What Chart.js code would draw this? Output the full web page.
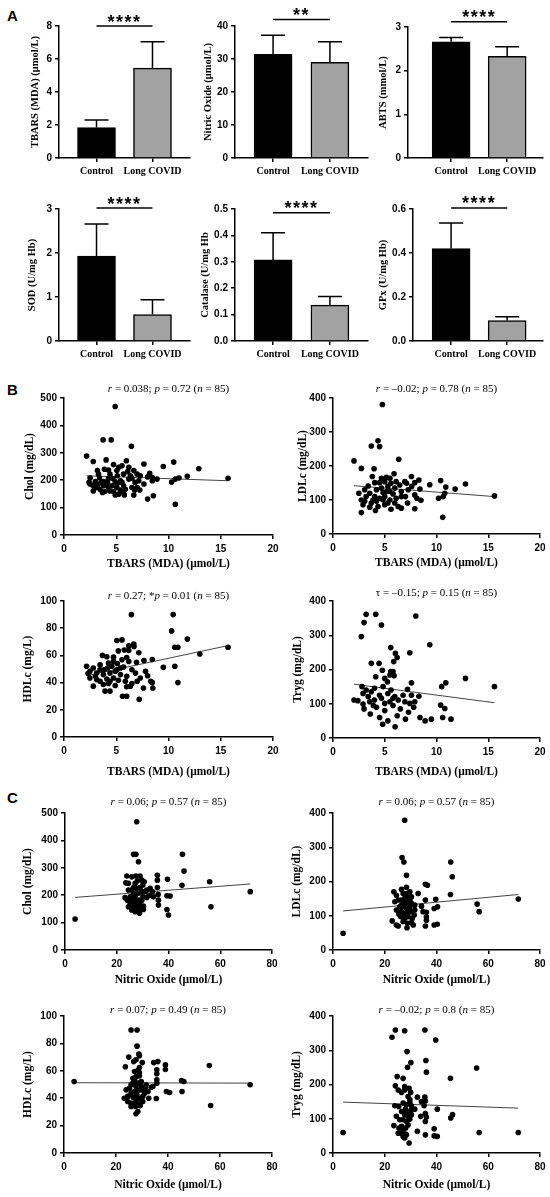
<!DOCTYPE html>
<html>
<head>
<meta charset="utf-8">
<script src="https://cdn.jsdelivr.net/npm/chart.js@4.4.1/dist/chart.umd.min.js"></script>
<style>
  body { margin: 0; background: #fff; }
  #fig { position: relative; width: 550px; height: 1197px; overflow: hidden; background: #fff; }
  #fig canvas { position: absolute; }
  .panel { position: absolute; font: bold 15px "Liberation Sans", Arial, sans-serif; line-height: 15px; }
</style>
</head>
<body>
<div id="fig">
  <div class="panel" style="left:7px; top:8px;">A</div>
  <div class="panel" style="left:7px; top:382px;">B</div>
  <div class="panel" style="left:7px; top:790px;">C</div>
</div>
<script>
// ---- panel A: group means and mean + SD
const groups = ['Control', 'Long COVID'];
const tbarsMean = [1.85, 5.45];
const tbarsUpper = [2.3, 7.05];
const noMean = [31.4, 29.0];
const noUpper = [37.2, 35.2];
const abtsMean = [2.66, 2.33];
const abtsUpper = [2.76, 2.55];
const sodMean = [1.93, 0.6];
const sodUpper = [2.66, 0.94];
const catMean = [0.307, 0.136];
const catUpper = [0.41, 0.169];
const gpxMean = [0.42, 0.093];
const gpxUpper = [0.536, 0.11];

// ---- panel B: lipids vs TBARS (x = TBARS, y = lipid)
const cholTbars = [[4.9,469],[3.74,347],[4.52,347],[6.45,324],[2.16,288],[2.8,268],[4.03,274],[5.97,271],[4.74,257],[7.65,259],[9.5,250],[10.5,266],[12.9,242],[3.87,240],[4.26,237],[5.23,247],[5.55,253],[6.2,247],[6.68,235],[7,222],[8.2,225],[3.3,222],[4.4,222],[5.1,216],[5.7,222],[7.3,216],[8,212],[8.45,210],[2.5,208],[3.4,208],[3.8,195],[3.0,195],[4.1,186],[4.9,194],[5.4,198],[6.2,204],[6.5,207],[6.8,192],[7.16,198],[8.45,198],[2.5,186],[3.3,186],[2.8,180],[3.1,173],[4.6,180],[5.06,173],[5.7,180],[6.5,173],[7,173],[2.8,161],[3.45,167],[3.9,159],[4.26,173],[4.74,159],[5.23,149],[5.7,155],[5.77,146],[6.68,146],[8,131],[8.55,143],[10.3,193],[10.65,204],[11,208],[11.8,214],[15.7,207],[10.65,112],[4.4,161],[4.9,146],[5.4,164],[3.8,180],[6.1,232],[4.26,206],[2.4,192],[3.6,192],[6.35,216],[5.55,192],[7.25,164],[5.06,235],[4.68,206],[3.2,235],[5.87,167],[3.68,155],[7.65,186],[8.9,204],[5.1,188],[4.16,192],[6.77,164]];
const ldlTbars = [[4.77,381],[4.35,274],[4.5,257],[3.7,259],[2.03,215],[6.35,220],[2.74,193],[3.97,192],[3.8,169],[4.68,164],[5.16,167],[5.5,164],[5.9,177],[7.58,169],[8.3,159],[9.35,145],[10.4,157],[10.9,138],[11.8,132],[12.8,147],[15.6,112],[10.65,110],[10.2,105],[10.8,120],[10.6,49],[3.4,141],[4.03,151],[5,154],[5.6,149],[6.45,144],[7.1,149],[7.9,151],[2.5,120],[3.06,130],[3.55,120],[4.2,130],[4.68,135],[5.3,140],[5.97,135],[6.6,125],[7.26,130],[8.4,132],[2.74,100],[3.2,110],[3.87,100],[4.5,105],[5,110],[5.5,100],[6.1,105],[6.6,110],[7.2,91],[7.9,115],[8.5,99],[2.9,86],[3.7,91],[4.35,81],[5,86],[5.6,73],[6.3,81],[6.6,76],[7.9,74],[2.74,63],[4.1,69],[5.3,91],[4.84,122],[5.8,118],[7,110],[7.6,140],[8.1,105],[4.03,110],[5.16,125],[6.1,154],[3.06,96],[3.55,79],[5.97,91],[4.5,151],[6.94,154],[5.5,125],[4.2,96],[4.84,100]];
const hdlTbars = [[6.45,90],[10.45,90],[10.3,78],[11.8,72],[10.6,66],[10.9,66],[15.7,66],[13,61],[5.06,71],[5.55,71.4],[6.68,68.4],[6.2,67],[6.7,66.5],[3.68,60],[4.1,59],[4.74,58.7],[5.77,64],[6.2,63.6],[5.2,63.3],[6,58.5],[7.16,62],[8.45,57],[7.65,56.3],[6.94,55],[2.16,52],[2.8,50.7],[3.45,53],[4.26,54.4],[4.58,52],[5.1,54],[5.7,51.5],[6.5,49.5],[9.5,51.2],[10.6,52],[7.8,48.3],[8,45],[8.3,41],[8.45,40],[10.9,40],[2.48,48.3],[3.13,47],[3,44.7],[3.77,45.9],[4.4,47],[4.9,48.3],[5.4,45.9],[6,44.7],[6.84,47],[7.3,43.4],[2.48,43.4],[3.45,41],[4.1,42.7],[4.74,43.4],[5.2,41.7],[5.87,41],[6.5,39.3],[2.8,37.4],[3.77,38.6],[4.26,39.3],[4.9,37.9],[6,37],[3.93,33.7],[4.4,33.7],[5.6,30],[6,30],[7.2,27.7],[7.6,36],[8.5,36],[3.13,42.2],[5.4,50.7],[4.74,55.6],[3.84,49.5],[6.2,55.6],[5.55,56.8],[5.06,49.5],[3.45,49.5],[7,41],[6.35,37.4],[2.3,46.6],[4.4,41],[4.16,50.7]];
const trygTbars = [[3.2,361],[4.13,361],[3,337],[4.68,330],[2.74,296],[8,356],[9.35,272],[5.58,264],[6.03,247],[6.2,235],[7.42,249],[3.7,218],[4.45,218],[5.87,223],[4.77,198],[5.58,194],[5.8,194],[5.5,184],[5.9,182],[4.13,179],[5,174],[12.8,174],[5.26,164],[7.58,161],[10.9,161],[15.6,150],[10.5,150],[2.8,150],[3.2,140],[4,145],[4.84,150],[5.6,140],[7.2,142],[8.3,122],[2.9,130],[3.7,135],[4.5,125],[5.3,130],[5.97,121],[6.77,125],[7.58,125],[2.03,111],[2.4,109],[2.9,99],[3.55,106],[4,111],[4.68,116],[5.5,106],[6.3,111],[6.94,106],[7.42,101],[7.9,106],[10.4,96],[10.8,86],[5,101],[5.8,116],[3.4,121],[3.0,85],[3.6,70],[4.2,90],[4.5,60],[5.0,80],[5.3,50],[5.8,95],[6.2,65],[6.5,85],[7.0,55],[7.3,75],[7.8,90],[8.4,60],[8.9,50],[9.5,55],[10.6,60],[11.4,55],[6.0,33],[4.8,40],[3.9,95]];
const cholTbarsFit = [[2.16,216],[15.7,198]];
const ldlTbarsFit = [[2.03,142],[15.6,110]];
const hdlTbarsFit = [[2.16,45.1],[15.7,67.2]];
const trygTbarsFit = [[2.03,157],[15.6,103]];

// ---- panel C: lipids vs nitric oxide
const cholNo = [[3.9,113],[27.7,468],[26.5,349],[27.4,349],[28.4,322],[45.4,349],[46,288],[45.2,236],[55.9,249],[71.6,213],[56.4,158],[39.6,258],[35.7,273],[35.7,255],[35.7,228],[36,203],[36.1,182],[36.1,164],[39.4,198],[40.6,197],[39.4,148],[40,128],[32.9,225],[33.8,213],[31.6,192],[23.9,270],[25.8,267],[27.4,270],[29,270],[24.5,243],[23.5,245],[24.5,219],[23.2,191],[25.2,194],[29.7,255],[30.6,249],[30.1,237],[27.7,225],[29,228],[26.5,228],[28.4,207],[29.7,213],[30.9,213],[25.8,182],[27.1,194],[28.6,182],[29.7,182],[24.5,158],[26.5,160],[27.7,158],[29,164],[30.3,148],[25.8,146],[27.1,140],[28.4,146],[29.7,152],[26.5,207],[25.2,170],[27.1,176],[28.4,170],[30.1,194],[31.6,219],[32.6,200],[34.2,194],[27.1,243],[28,253],[25.8,219],[28.8,134],[30.3,160],[24.1,182]];
const ldlNo = [[3.9,49],[27.7,379],[26.7,270],[27.4,257],[28.4,218],[45.5,257],[46.1,214],[45.4,162],[35.7,192],[36.5,189],[39.7,148],[35.7,146],[55.7,134],[56.5,112],[71.6,149],[40.4,126],[39.1,121],[39.1,73],[40.3,75],[35.7,70],[36.1,97],[36.1,87],[34.8,112],[36.1,110],[32.9,165],[31.6,131],[34.2,128],[31.6,117],[23.5,170],[24.5,160],[23.9,141],[25.2,146],[22.9,85],[24.5,73],[25.2,70],[28.6,65],[26.5,177],[27.1,165],[28.4,165],[29.7,170],[29,155],[30.3,155],[26.5,146],[27.7,150],[29,141],[30.3,136],[25.8,126],[27.1,128],[28.4,121],[29.7,126],[26.5,112],[27.7,107],[29,109],[30.3,112],[26.2,97],[27.7,92],[29,97],[30.6,92],[27.1,83],[28.8,78],[30.3,80],[31,73],[25.4,105],[28,136],[31.4,102],[28.4,183],[29.7,146],[24.5,117],[26.5,131],[29.3,117],[28.4,99]];
const hdlNo = [[3.9,52.2],[25.8,89.8],[28.1,89.8],[28.1,78],[24.9,70],[28.8,72.3],[29,71],[26.8,66.7],[27.7,68],[30.1,66],[23.6,63],[34.5,66],[36.1,66.7],[39,64.3],[39,61],[35.7,60.7],[35.7,57.8],[55.9,63.8],[27.1,59.5],[28.4,60.2],[29,58.7],[27.7,55.8],[29,56.3],[27.1,53.4],[26.5,51],[28.4,51],[29.7,52.2],[35.7,53.4],[35.7,51],[34.2,48.5],[45.2,52.9],[46.1,52.2],[45.4,44.9],[71.6,49.8],[56.4,34.7],[39.4,44.9],[40.6,44.2],[35.5,39.8],[32.3,44.9],[32.6,40],[23.9,46.1],[25.2,47.3],[25.8,43.7],[27.1,44.9],[28.4,45.6],[29.7,46.1],[23.2,40],[24.5,41.3],[26.5,40.8],[27.7,39.3],[29,40],[30.3,41.3],[24.5,37.6],[25.8,36.4],[27.1,36.4],[28.8,35.9],[30.3,37.6],[25.8,34],[27.5,34],[29.3,34.5],[27.7,28.6],[28.4,30.3],[31.6,49.8],[31.2,47.3],[33.5,48],[27.7,48.5],[29.7,48.5],[25.8,49.8],[29,62.4],[31,43.7],[28,42.5],[26.5,54.6]];
const trygNo = [[3.9,60],[22.8,338],[24.1,359],[27.7,357],[35.5,359],[39.7,330],[28.6,296],[30.1,264],[35.9,270],[28.8,250],[36.1,236],[45.4,218],[55.5,248],[24.8,223],[27.1,218],[24.1,196],[25.2,184],[27.7,194],[27.7,184],[29.4,189],[30,177],[26.5,177],[29,165],[29.7,155],[32.6,163],[35.5,163],[35.7,152],[34.2,150],[23.9,138],[25.4,136],[27.1,146],[28.4,141],[29.7,146],[35.2,138],[40.3,128],[28,128],[29,121],[30.3,126],[31.6,128],[26.5,121],[27.7,112],[29,107],[30.3,112],[35.7,115],[36.1,105],[33.9,107],[45.5,102],[46.2,112],[25.8,97],[27.1,97],[28.4,92],[29.7,99],[35.7,92],[25.5,73],[26.5,78],[27.1,68],[28.1,73],[23.5,80],[25.2,58],[26.5,58],[28,55],[27.1,48.5],[27.7,44],[29.4,29],[32.6,63],[35.7,53],[39.1,71],[39.1,50],[40.3,48.5],[56.5,60],[71.6,60],[28.4,53],[24.5,107],[29,82],[30.3,138]];
const cholNoFit = [[3.9,192],[71.6,241]];
const ldlNoFit = [[3.9,114],[71.6,162]];
const hdlNoFit = [[3.9,51.3],[71.6,51]];
const trygNoFit = [[3.9,148.5],[71.6,131]];

// ---- layout helpers
const YW = 70, XH = 50, PT = 32, PR = 12;
const fig = document.getElementById('fig');
const sans = 'Liberation Sans', serif = 'Liberation Serif';

function place(area) {
  const c = document.createElement('canvas');
  c.width = area[2] - area[0] + YW + PR;
  c.height = area[3] - area[1] + PT + XH;
  c.style.left = (area[0] - YW) + 'px';
  c.style.top = (area[1] - PT) + 'px';
  fig.appendChild(c);
  return c;
}

const axisLine = { display: true, color: '#000', width: 1.5 };
const tickMarks = { display: true, drawOnChartArea: false, drawTicks: true, tickLength: 4, color: '#000', lineWidth: 1.5, offset: false };

const errorBars = {
  id: 'errorBars',
  afterDatasetsDraw(chart, args, opts) {
    const { ctx, scales: { x, y } } = chart;
    ctx.save();
    ctx.strokeStyle = '#000';
    ctx.lineWidth = 1.5;
    opts.mean.forEach((m, i) => {
      const px = x.getPixelForValue(i + 1);
      const top = y.getPixelForValue(opts.upper[i]);
      ctx.beginPath();
      ctx.moveTo(px, y.getPixelForValue(m));
      ctx.lineTo(px, top);
      ctx.moveTo(px - 12, top);
      ctx.lineTo(px + 12, top);
      ctx.stroke();
    });
    ctx.restore();
  }
};

const sigBar = {
  id: 'sigBar',
  afterDraw(chart, args, opts) {
    const { ctx, scales: { x, y } } = chart;
    const x1 = x.getPixelForValue(1), x2 = x.getPixelForValue(2);
    const py = y.getPixelForValue(opts.y);
    ctx.save();
    ctx.strokeStyle = '#000';
    ctx.lineWidth = 1.5;
    ctx.beginPath();
    ctx.moveTo(x1, py);
    ctx.lineTo(x2, py);
    ctx.stroke();
    ctx.fillStyle = '#000';
    ctx.font = 'bold 18px "' + sans + '"';
    ctx.letterSpacing = '1.5px';
    ctx.textAlign = 'center';
    ctx.textBaseline = 'alphabetic';
    ctx.fillText(opts.text, (x1 + x2) / 2, py + 1.5);
    ctx.restore();
  }
};

// "_r_ = 0.04" -> italic r, upright rest
const statTitle = {
  id: 'statTitle',
  afterDraw(chart, args, opts) {
    const { ctx, chartArea } = chart;
    const parts = opts.text.split('_');
    const fonts = parts.map((p, i) => (i % 2 ? 'italic ' : '') + '11px "' + serif + '"');
    ctx.save();
    let w = 0;
    parts.forEach((p, i) => { ctx.font = fonts[i]; w += ctx.measureText(p).width; });
    let cx = (chartArea.left + chartArea.right) / 2 - w / 2;
    ctx.fillStyle = '#000';
    ctx.textBaseline = 'middle';
    ctx.textAlign = 'left';
    parts.forEach((p, i) => {
      ctx.font = fonts[i];
      ctx.fillText(p, cx, opts.y);
      cx += ctx.measureText(p).width;
    });
    ctx.restore();
  }
};

function barChart(area, xr, mean, upper, yMax, yStep, digits, yTitle, yTitleX, sigY, stars) {
  const lh = 10.5 * 1.2;
  new Chart(place(area), {
    type: 'bar',
    data: {
      datasets: [{
        data: mean.map((v, i) => ({ x: i + 1, y: v })),
        backgroundColor: ['#000000', '#a2a2a2'],
        borderColor: '#000',
        borderWidth: 1.5,
        barThickness: 38
      }]
    },
    options: {
      responsive: false,
      animation: false,
      layout: { padding: { top: PT, right: PR, left: 0, bottom: 0 } },
      plugins: {
        legend: { display: false },
        tooltip: { enabled: false },
        errorBars: { mean: mean, upper: upper },
        sigBar: { y: sigY, text: stars }
      },
      scales: {
        x: {
          type: 'linear', min: xr[0], max: xr[1], offset: false,
          afterFit: s => { s.height = XH; },
          afterBuildTicks: s => { s.ticks = groups.map((g, i) => ({ value: i + 1 })); },
          ticks: { callback: v => groups[v - 1], color: '#000', padding: 3, maxRotation: 0, autoSkip: false,
                   font: { family: serif, weight: 'bold', size: 10 } },
          grid: tickMarks, border: axisLine
        },
        y: {
          min: 0, max: yMax,
          afterFit: s => { s.width = YW; },
          ticks: { stepSize: yStep, callback: v => v.toFixed(digits), color: '#000', padding: 3,
                   font: { family: sans, weight: 'bold', size: 10 } },
          title: { display: true, text: yTitle, color: '#000',
                   font: { family: serif, weight: 'bold', size: 10.5 },
                   padding: { top: yTitleX - (area[0] - YW) - lh / 2, bottom: 0 } },
          grid: tickMarks, border: axisLine
        }
      }
    },
    plugins: [errorBars, sigBar]
  });
}

function scatterChart(area, pts, fit, xMax, xStep, yMax, yStep, xTitle, yTitle, yTitleX, xTitleGap, stat, statY) {
  const lh = 11.5 * 1.2;
  new Chart(place(area), {
    type: 'scatter',
    data: {
      datasets: [{
        data: pts.map(p => ({ x: p[0], y: p[1] })),
        pointRadius: 2.8,
        pointBackgroundColor: '#000',
        pointBorderWidth: 0
      }, {
        data: fit.map(p => ({ x: p[0], y: p[1] })),
        showLine: true,
        borderColor: '#444',
        borderWidth: 1,
        pointRadius: 0
      }]
    },
    options: {
      responsive: false,
      animation: false,
      layout: { padding: { top: PT, right: PR, left: 0, bottom: 0 } },
      plugins: {
        legend: { display: false },
        tooltip: { enabled: false },
        statTitle: { text: stat, y: statY - (area[1] - PT) }
      },
      scales: {
        x: {
          type: 'linear', min: 0, max: xMax,
          afterFit: s => { s.height = XH; },
          ticks: { stepSize: xStep, color: '#000', padding: 4, maxRotation: 0,
                   font: { family: sans, weight: 'bold', size: 10 } },
          title: { display: true, text: xTitle, color: '#000',
                   font: { family: serif, weight: 'bold', size: 11.5 },
                   padding: { top: 0, bottom: XH - xTitleGap - lh / 2 } },
          grid: tickMarks, border: axisLine
        },
        y: {
          min: 0, max: yMax,
          afterFit: s => { s.width = YW; },
          ticks: { stepSize: yStep, color: '#000', padding: 3,
                   font: { family: sans, weight: 'bold', size: 10 } },
          title: { display: true, text: yTitle, color: '#000',
                   font: { family: serif, weight: 'bold', size: 11.5 },
                   padding: { top: yTitleX - (area[0] - YW) - lh / 2, bottom: 0 } },
          grid: tickMarks, border: axisLine
        }
      }
    },
    plugins: [statTitle]
  });
}

// ---- A
barChart([59, 26, 190, 158], [0.33, 2.67], tbarsMean, tbarsUpper, 8, 2, 0, 'TBARS (MDA) (μmol/L)', 35, 8, '****');
barChart([235, 26, 368, 158], [0.33, 2.67], noMean, noUpper, 40, 10, 0, 'Nitric Oxide (μmol/L)', 208, 42, '**');
barChart([408, 27, 543, 158], [0.23, 2.64], abtsMean, abtsUpper, 3, 1, 0, 'ABTS (mmol/L)', 383, 3.12, '****');
barChart([59, 209, 190, 341], [0.33, 2.67], sodMean, sodUpper, 3, 1, 0, 'SOD (U/mg Hb)', 32, 3.02, '****');
barChart([235, 209, 368, 341], [0.33, 2.67], catMean, catUpper, 0.5, 0.1, 1, 'Catalase (U/mg Hb', 205, 0.486, '****');
barChart([413, 209, 543, 341], [0.32, 2.64], gpxMean, gpxUpper, 0.6, 0.2, 1, 'GPx (U/mg Hb)', 383, 0.605, '****');

// ---- B
const tbarsTitle = 'TBARS (MDA) (μmol/L)';
scatterChart([64, 398, 273, 535], cholTbars, cholTbarsFit, 20, 5, 500, 100, tbarsTitle, 'Chol (mg/dL)', 30, 29, '_r_ = 0.038; _p_ = 0.72 (_n_ = 85)', 389);
scatterChart([333, 398, 540, 534], ldlTbars, ldlTbarsFit, 20, 5, 400, 100, tbarsTitle, 'LDLc (mg/dL)', 303, 29, '_r_ = –0.02; _p_ = 0.78 (_n_ = 85)', 389);
scatterChart([64, 601, 273, 737], hdlTbars, hdlTbarsFit, 20, 5, 100, 20, tbarsTitle, 'HDLc (mg/L)', 28, 35, '_r_ = 0.27; *_p_ = 0.01 (_n_ = 85)', 596);
scatterChart([333, 601, 540, 738], trygTbars, trygTbarsFit, 20, 5, 400, 100, tbarsTitle, 'Tryg (mg/dL)', 298, 34, 'τ = –0.15; _p_ = 0.15 (_n_ = 85)', 593);

// ---- C
const noTitle = 'Nitric Oxide (μmol/L)';
scatterChart([65, 813, 272, 950], cholNo, cholNoFit, 80, 20, 500, 100, noTitle, 'Chol (mg/dL)', 28, 30, '_r_ = 0.06; _p_ = 0.57 (_n_ = 85)', 802);
scatterChart([333, 813, 540, 950], ldlNo, ldlNoFit, 80, 20, 400, 100, noTitle, 'LDLc (mg/dL)', 297, 30, '_r_ = 0.06; _p_ = 0.57 (_n_ = 85)', 802);
scatterChart([64, 1016, 272, 1153], hdlNo, hdlNoFit, 80, 20, 100, 20, noTitle, 'HDLc (mg/L)', 28, 32, '_r_ = 0.07; _p_ = 0.49 (_n_ = 85)', 1010);
scatterChart([333, 1016, 540, 1153], trygNo, trygNoFit, 80, 20, 400, 100, noTitle, 'Tryg (mg/dL)', 297, 32, '_r_ = –0.02; _p_ = 0.8 (_n_ = 85)', 1010);
</script>
</body>
</html>
